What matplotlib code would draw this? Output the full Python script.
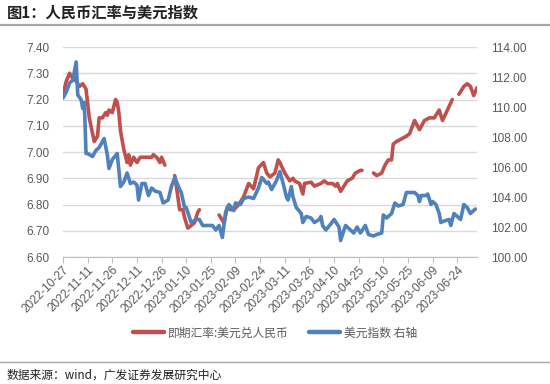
import matplotlib
matplotlib.use("Agg")
import matplotlib.pyplot as plt
import matplotlib.dates as mdates
import numpy as np
import pandas as pd
from matplotlib.lines import Line2D

plt.rcParams['font.family'] = ['Noto Sans CJK SC', 'DejaVu Sans']

# 即期汇率: 美元兑人民币 (left axis), NaN = holiday gap
cny_dates = [
    "2022-10-27", "2022-10-29", "2022-10-31", "2022-11-02", "2022-11-04", "2022-11-06",
    "2022-11-08", "2022-11-09", "2022-11-10", "2022-11-12", "2022-11-14", "2022-11-15",
    "2022-11-17", "2022-11-18", "2022-11-20", "2022-11-22", "2022-11-23", "2022-11-24",
    "2022-11-26", "2022-11-28", "2022-11-29", "2022-11-30", "2022-12-01", "2022-12-03",
    "2022-12-05", "2022-12-06", "2022-12-07", "2022-12-09", "2022-12-11", "2022-12-13",
    "2022-12-15", "2022-12-17", "2022-12-20", "2022-12-21", "2022-12-23", "2022-12-25",
    "2022-12-26", "2022-12-28", "2022-12-31",
    "2023-01-03", "2023-01-04", "2023-01-06", "2023-01-08", "2023-01-09", "2023-01-11",
    "2023-01-13", "2023-01-15", "2023-01-17", "2023-01-18", "2023-01-24",
    "2023-01-30", "2023-02-02", "2023-02-04", "2023-02-06", "2023-02-08", "2023-02-11",
    "2023-02-14", "2023-02-17", "2023-02-20", "2023-02-23", "2023-02-26", "2023-02-28",
    "2023-03-02", "2023-03-05", "2023-03-07", "2023-03-08", "2023-03-11", "2023-03-14",
    "2023-03-16", "2023-03-17", "2023-03-20", "2023-03-22", "2023-03-23", "2023-03-27",
    "2023-03-29", "2023-04-02", "2023-04-04", "2023-04-06", "2023-04-09", "2023-04-11",
    "2023-04-12", "2023-04-14", "2023-04-16", "2023-04-18", "2023-04-21", "2023-04-23",
    "2023-04-26", "2023-04-27", "2023-04-30",
    "2023-05-04", "2023-05-06", "2023-05-09", "2023-05-11", "2023-05-13", "2023-05-15",
    "2023-05-16", "2023-05-18", "2023-05-21", "2023-05-24", "2023-05-26", "2023-05-29",
    "2023-06-01", "2023-06-04", "2023-06-07", "2023-06-10", "2023-06-13", "2023-06-15",
    "2023-06-18", "2023-06-21", "2023-06-23",
    "2023-06-25", "2023-06-28", "2023-06-30", "2023-07-02", "2023-07-04", "2023-07-06",
]
cny_values = [
    7.22, 7.27, 7.30, 7.28, 7.27, 7.25,
    7.26, 7.25, 7.24, 7.13, 7.07, 7.04,
    7.06, 7.13, 7.13, 7.15, 7.14, 7.16,
    7.15, 7.20, 7.19, 7.15, 7.08, 7.01,
    6.96, 6.99, 6.95, 6.98, 6.96, 6.98,
    6.98, 6.98, 6.98, 6.99, 6.98, 6.96,
    6.98, 6.95, np.nan,
    6.91, 6.87, 6.78, 6.78, 6.75, 6.71,
    6.72, 6.73, 6.77, 6.78, np.nan,
    6.76, 6.73, 6.79, 6.78, 6.78, 6.80,
    6.83, 6.88, 6.86, 6.94, 6.96, 6.92,
    6.905, 6.92, 6.97, 6.96, 6.92, 6.89,
    6.90, 6.89, 6.88, 6.84, 6.88, 6.885,
    6.87, 6.88, 6.89, 6.88, 6.88, 6.87,
    6.88, 6.85, 6.87, 6.89, 6.90, 6.92,
    6.93, 6.93, np.nan,
    6.92, 6.91, 6.92, 6.95, 6.97, 6.97,
    7.03, 7.04, 7.05, 7.06, 7.07, 7.12,
    7.085, 7.12, 7.13, 7.13, 7.16, 7.12,
    7.16, 7.20, np.nan,
    7.22, 7.25, 7.26, 7.25, 7.215, 7.245,
]

# 美元指数 (right axis)
dxy_dates = [
    "2022-10-27", "2022-10-29", "2022-10-31", "2022-11-02", "2022-11-04", "2022-11-05",
    "2022-11-07", "2022-11-08", "2022-11-09", "2022-11-10", "2022-11-11", "2022-11-14",
    "2022-11-16", "2022-11-18", "2022-11-21", "2022-11-23", "2022-11-24", "2022-11-26",
    "2022-11-29", "2022-12-01", "2022-12-03", "2022-12-05", "2022-12-07", "2022-12-09",
    "2022-12-11", "2022-12-12", "2022-12-14", "2022-12-16", "2022-12-18", "2022-12-20",
    "2022-12-22", "2022-12-25", "2022-12-27", "2022-12-30", "2023-01-01", "2023-01-03",
    "2023-01-06", "2023-01-07", "2023-01-09", "2023-01-10", "2023-01-13", "2023-01-16",
    "2023-01-18", "2023-01-20", "2023-01-23", "2023-01-26", "2023-01-28", "2023-01-30",
    "2023-02-01", "2023-02-03", "2023-02-05", "2023-02-08", "2023-02-09", "2023-02-12",
    "2023-02-14", "2023-02-17", "2023-02-20", "2023-02-23", "2023-02-25", "2023-02-28",
    "2023-03-01", "2023-03-03", "2023-03-04", "2023-03-06", "2023-03-08", "2023-03-10",
    "2023-03-12", "2023-03-13", "2023-03-15", "2023-03-16", "2023-03-18", "2023-03-21",
    "2023-03-22", "2023-03-24", "2023-03-27", "2023-03-29", "2023-04-01", "2023-04-02",
    "2023-04-03", "2023-04-05", "2023-04-08", "2023-04-10", "2023-04-13", "2023-04-14",
    "2023-04-16", "2023-04-17", "2023-04-19", "2023-04-22", "2023-04-24", "2023-04-26",
    "2023-04-29", "2023-05-01", "2023-05-04", "2023-05-06", "2023-05-09", "2023-05-10",
    "2023-05-12", "2023-05-15", "2023-05-17", "2023-05-19", "2023-05-22", "2023-05-24",
    "2023-05-27", "2023-05-29", "2023-05-31", "2023-06-01", "2023-06-02", "2023-06-05",
    "2023-06-06", "2023-06-08", "2023-06-09", "2023-06-11", "2023-06-13", "2023-06-14",
    "2023-06-16", "2023-06-19", "2023-06-20", "2023-06-22", "2023-06-24", "2023-06-26",
    "2023-06-28", "2023-06-30", "2023-07-02", "2023-07-04", "2023-07-05",
]
dxy_values = [
    110.6, 111.0, 111.6, 111.8, 113.0, 110.8,
    110.5, 109.9, 110.3, 106.9, 106.9, 106.7,
    107.1, 107.3, 107.9, 106.8, 105.9, 106.5,
    106.9, 104.7, 105.0, 105.6, 104.9, 105.0,
    104.8, 103.8, 104.9, 104.9, 104.1, 104.6,
    104.4, 104.3, 103.6, 103.8, 104.7, 105.3,
    104.5, 104.3, 103.3, 103.3, 102.3, 102.5,
    102.5, 102.1, 102.1, 102.1, 101.8, 102.1,
    101.3, 103.0, 103.5, 103.1, 103.6, 103.5,
    103.9, 104.0, 103.9, 104.6, 105.3, 104.9,
    105.0, 104.5, 104.7, 105.1, 105.7, 104.9,
    104.0, 103.8, 104.7, 104.0, 103.3, 102.9,
    102.3, 102.7, 102.6, 102.3, 102.5, 102.7,
    102.1, 101.8, 102.2, 102.5, 102.0, 101.1,
    101.8, 102.1, 101.9, 101.6, 102.0, 101.6,
    102.1, 101.5, 101.4, 101.5, 101.6, 102.8,
    102.6, 102.9, 103.6, 103.4, 103.5, 104.3,
    104.3, 104.3, 104.1, 103.7, 104.1, 104.1,
    104.2, 103.5, 103.7, 103.5, 102.9, 102.3,
    102.4, 102.5, 102.1, 102.9, 102.7, 102.5,
    103.5, 103.3, 102.9, 103.1, 103.2,
]

cny_label = "即期汇率:美元兑人民币"
dxy_label = "美元指数 右轴"
title = "图1：人民币汇率与美元指数"
source = "数据来源：wind，广发证券发展研究中心"

red = "#C0504D"
blue = "#4F81BD"
gray_txt = "#595959"
num_font = ['Liberation Sans', 'DejaVu Sans']

fig = plt.figure(figsize=(5.5, 3.84), dpi=100)
ax = fig.add_axes([63 / 550, 1 - 257 / 384, (477 - 63) / 550, (257 - 47) / 384])
ax2 = ax.twinx()

l1, = ax.plot(pd.to_datetime(cny_dates), cny_values, color=red, lw=2.6,
              solid_joinstyle='round', solid_capstyle='round')
l2, = ax2.plot(pd.to_datetime(dxy_dates), dxy_values, color=blue, lw=2.6,
               solid_joinstyle='round', solid_capstyle='round')

ax.set_ylim(6.6, 7.4)
ax.set_yticks(np.arange(6.6, 7.401, 0.1))
ax.yaxis.set_major_formatter(matplotlib.ticker.FormatStrFormatter('%.2f'))
ax2.set_ylim(100, 114)
ax2.set_yticks(np.arange(100, 114.01, 2))
ax2.yaxis.set_major_formatter(matplotlib.ticker.FormatStrFormatter('%.2f'))

start = pd.Timestamp("2022-10-27")
ax.set_xlim(start, pd.Timestamp("2023-07-06"))
xt = pd.date_range(start, "2023-06-24", freq="15D")
ax.set_xticks(xt)
ax.xaxis.set_major_formatter(mdates.DateFormatter('%Y-%m-%d'))

ax.grid(axis='y', color='#D9D9D9', lw=1)
ax.set_axisbelow(True)
for a in (ax, ax2):
    for s in ('left', 'right', 'top'):
        a.spines[s].set_visible(False)
    a.spines['bottom'].set_color('#BFBFBF')
ax2.spines['bottom'].set_visible(False)

ax.tick_params(axis='y', length=0, pad=10, labelcolor=gray_txt, labelsize=8.5)
ax2.tick_params(axis='y', length=0, pad=10, labelcolor=gray_txt, labelsize=8.5)
ax.tick_params(axis='x', length=4, color='#BFBFBF', labelcolor=gray_txt,
               labelsize=8.5, pad=1)
for lab in ax.get_xticklabels():
    lab.set_rotation(45)
    lab.set_ha('right')
    lab.set_rotation_mode('anchor')
for lab in ax.get_xticklabels() + ax.get_yticklabels() + ax2.get_yticklabels():
    lab.set_family(num_font)

fig.text(0.012, 0.967, title, fontsize=11, fontweight='bold', color='#222222',
         va='center', ha='left')
fig.add_artist(Line2D([0, 1], [0.934, 0.934], transform=fig.transFigure,
                      color='#A6A6A6', lw=1.6))
fig.add_artist(Line2D([0, 1], [0.058, 0.058], transform=fig.transFigure,
                      color='#A6A6A6', lw=1.0))
fig.text(0.012, 0.022, source, fontsize=8.5, color='#222222', va='center', ha='left')

leg = fig.legend([l1, l2], [cny_label, dxy_label], loc='center',
                 bbox_to_anchor=(0.5, 1 - 333 / 384), ncol=2, frameon=False,
                 fontsize=8.5, handlelength=2.6, columnspacing=1.8,
                 handletextpad=0.3, labelcolor=gray_txt)
for h in leg.legend_handles:
    h.set_linewidth(3.2)

fig.savefig("out.png", dpi=100)
